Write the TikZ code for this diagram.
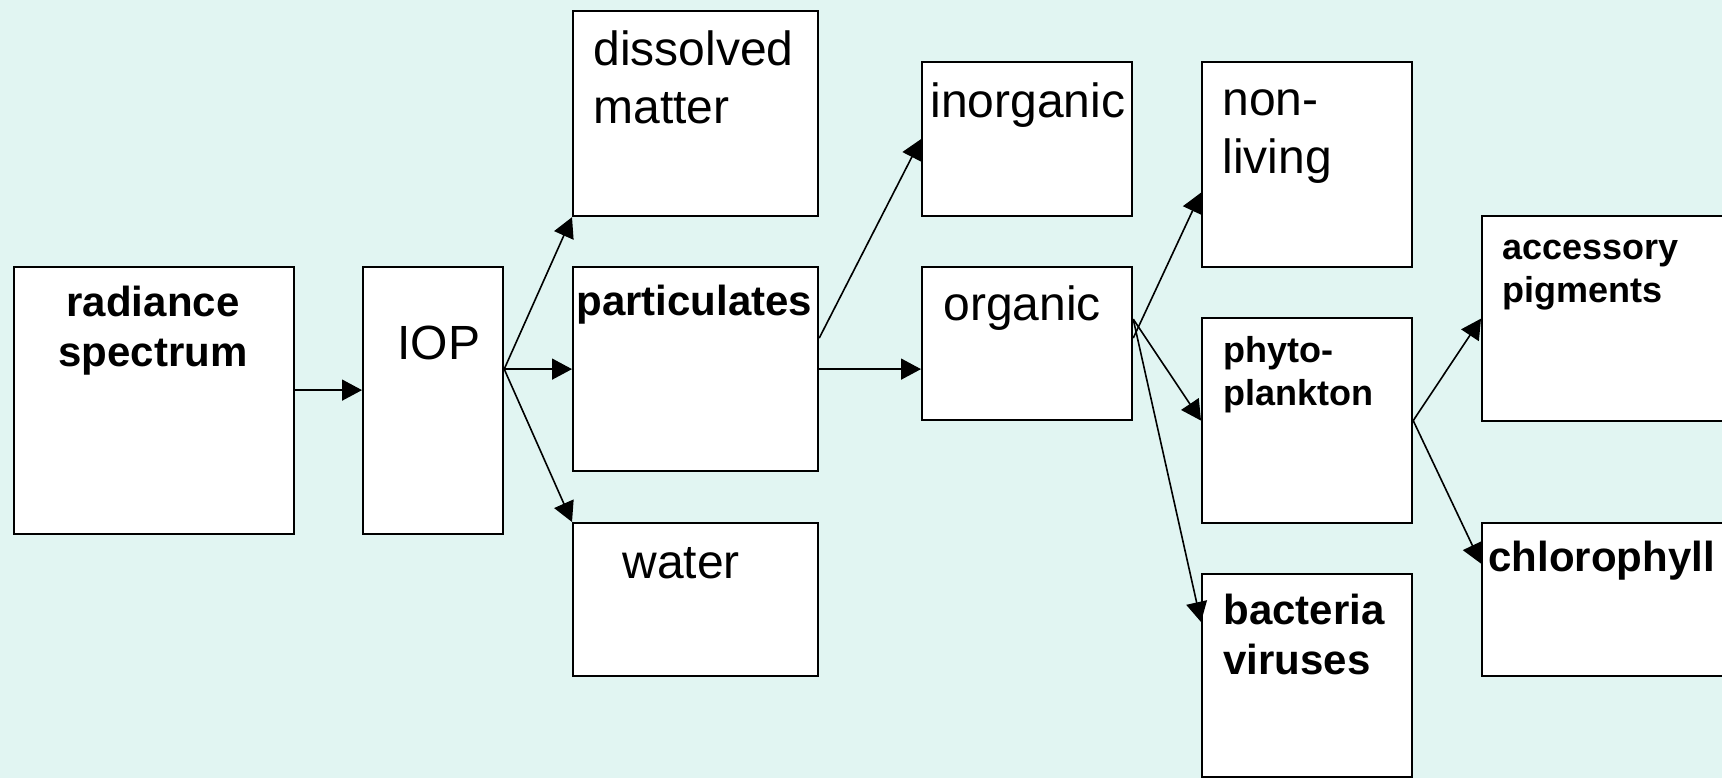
\documentclass[tikz,border=0pt]{standalone}
\usepackage{fontspec}
\setmainfont{Liberation Sans}
\usetikzlibrary{arrows.meta}
\definecolor{bgcol}{RGB}{225,245,242}
\tikzset{
  box/.style={draw, fill=white, line width=1.1pt, anchor=north west, inner sep=0pt},
  txt/.style={inner sep=0pt, anchor=base west, align=left, font=\fontsize{24}{29}\selectfont},
  btxt/.style={inner sep=0pt, anchor=base west, align=left, font=\bfseries\fontsize{21}{25}\selectfont},
  stxt/.style={inner sep=0pt, anchor=base west, align=left, font=\bfseries\fontsize{18}{21.5}\selectfont},
  arr/.style={line width=.8pt, -{Triangle[length=10pt,width=10.5pt]}}
}
\begin{document}
\begin{tikzpicture}[x=0.5pt,y=-0.5pt]
\def\bx#1#2#3#4#5{\node[box, minimum width=#4*0.5pt, minimum height=#5*0.5pt] (#1) at (#2,#3) {};}
\useasboundingbox (0,0) rectangle (1722,778);
\fill[bgcol] (0,0) rectangle (1722,778);
\clip (0,0) rectangle (1722,778);
\bx{rad}  {13}  {266}{280}{267}
\bx{iop}  {362} {266}{140}{267}
\bx{dis}  {572} {10} {245}{205}
\bx{par}  {572} {266}{245}{204}
\bx{wat}  {572} {522}{245}{153}
\bx{inorg}{921} {61} {210}{154}
\bx{org}  {921} {266}{210}{153}
\bx{nonl} {1201}{61} {210}{205}
\bx{phy}  {1201}{317}{210}{205}
\bx{bac}  {1201}{573}{210}{203}
\bx{acc}  {1481}{215}{300}{205}
\bx{chl}  {1481}{522}{300}{153}
% multi-line texts sit on the baseline of their last line
\node[btxt, anchor=base, align=center] (rad-t) at (153,366) {radiance\\spectrum};
\node[txt]  (iop-t)   at (397,359)  {IOP};
\node[txt]  (dis-t)   at (593,123)  {dissolved\\matter};
\node[btxt] (par-t)   at (576,315)  {particulates};
\node[txt]  (wat-t)   at (622,578)  {water};
\node[txt]  (inorg-t) at (930,117)  {inorganic};
\node[txt]  (org-t)   at (943,320)  {organic};
\node[txt]  (nonl-t)  at (1222,173) {non-\\living};
\node[stxt] (phy-t)   at (1223,405) {phyto-\\plankton};
\node[btxt] (bac-t)   at (1223,674) {bacteria\\viruses};
\node[stxt] (acc-t)   at (1502,302) {accessory\\pigments};
\node[btxt] (chl-t)   at (1488,571) {chlorophyll};
\draw[arr] ([yshift=5.25pt]rad.east) -- ([yshift=5.25pt]iop.west);
\draw[arr] ([yshift=15.75pt]iop.east) -- (dis.south west);
\draw[arr] ([yshift=15.75pt]iop.east) -- (par.west);
\draw[arr] ([yshift=15.75pt]iop.east) -- (wat.north west);
\draw[arr] ([yshift=15.5pt]par.east) -- (inorg.west);
\draw[arr] (par.east) -- (org.west |- par.east);
\draw[arr] ([yshift=2.75pt]org.east) -- ([yshift=-14pt]nonl.west);
\draw[arr] ([yshift=12.25pt]org.east) -- (phy.west);
\draw[arr] ([yshift=12.25pt]org.east) -- ([yshift=-24.5pt]bac.north west);
\draw[arr] (phy.east) -- (acc.west);
\draw[arr] (phy.east) -- ([yshift=18pt]chl.west);
\end{tikzpicture}
\end{document}
